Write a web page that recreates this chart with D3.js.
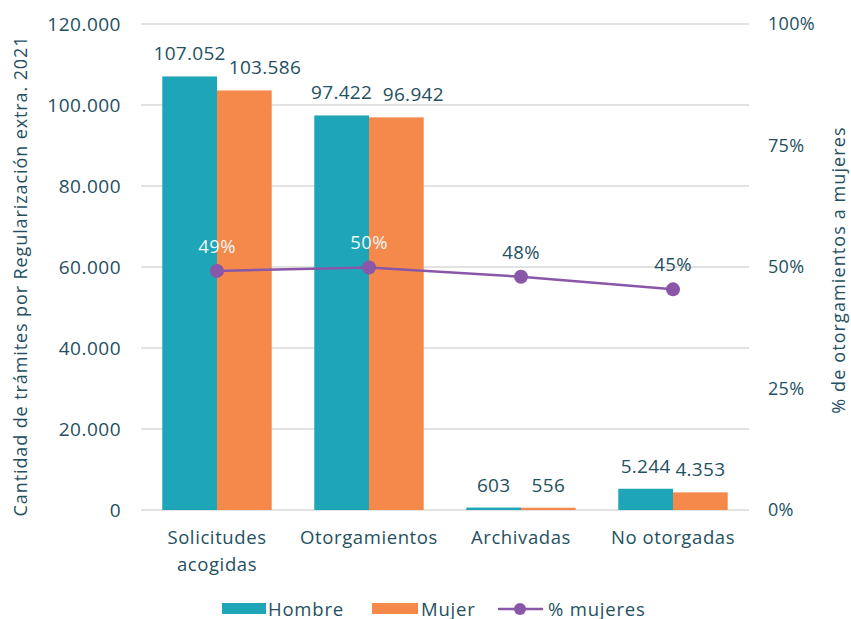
<!DOCTYPE html>
<html>
<head>
<meta charset="utf-8">
<script src="https://cdn.jsdelivr.net/npm/d3@7"></script>
<style>
  body { margin: 0; background: #fff; }
  svg text { font-family: "Open Sans", sans-serif; fill: #24505f; }
</style>
</head>
<body>
<div id="chart"></div>
<script>
// data
const categories = [["Solicitudes", "acogidas"], ["Otorgamientos"], ["Archivadas"], ["No otorgadas"]];
const hombre = [107052, 97422, 603, 5244];
const mujer = [103586, 96942, 556, 4353];
const pctMujeres = [49.2, 49.9, 48.0, 45.4];
const leftTicks = [0, 20000, 40000, 60000, 80000, 100000, 120000];
const rightTicks = [0, 25, 50, 75, 100];

const W = 851, H = 619;
const margin = { top: 24, right: 102, bottom: 109, left: 141 };
const width = W - margin.left - margin.right,
    height = H - margin.top - margin.bottom;

const colHombre = "#1fa5b8", colMujer = "#f4894b", colLine = "#8857a7";

const fmt = d3.formatLocale({ decimal: ",", thousands: ".", grouping: [3], currency: ["", ""] }).format(",d");

const svg = d3.select("#chart").append("svg")
    .attr("width", W).attr("height", H);
const g = svg.append("g").attr("transform", `translate(${margin.left},${margin.top})`);

const x = d3.scaleBand().domain(d3.range(categories.length)).range([0, width]);
const xs = d3.scaleBand().domain(["h", "m"]).range([x.bandwidth() * 0.14, x.bandwidth() * 0.86]);
const y = d3.scaleLinear().domain([0, 120000]).range([height, 0]);
const y2 = d3.scaleLinear().domain([0, 100]).range([height, 0]);

// gridlines
g.append("g").selectAll("line").data(leftTicks).join("line")
    .attr("x1", 0).attr("x2", width)
    .attr("y1", d => y(d)).attr("y2", d => y(d))
    .attr("stroke", "#d9d9d9").attr("stroke-width", 1.5);

// left axis
const ay = g.append("g").call(d3.axisLeft(y).tickValues(leftTicks).tickFormat(d => fmt(d)).tickSize(0).tickPadding(20));
ay.select(".domain").remove();
ay.selectAll("text").style("font-size", "19px").style("letter-spacing", "0.5px").attr("fill", "#24505f");

// right axis
const ay2 = g.append("g").attr("transform", `translate(${width},0)`)
    .call(d3.axisRight(y2).tickValues(rightTicks).tickFormat(d => d + "%").tickSize(0).tickPadding(19));
ay2.select(".domain").remove();
ay2.selectAll("text").style("font-size", "18px").style("letter-spacing", "0.3px").attr("fill", "#24505f");

// bars
const groups = g.selectAll(".grp").data(categories).join("g")
    .attr("transform", (d, i) => `translate(${x(i)},0)`);
groups.append("rect")
    .attr("x", xs("h")).attr("width", xs.bandwidth())
    .attr("y", (d, i) => y(hombre[i])).attr("height", (d, i) => height - y(hombre[i]))
    .attr("fill", colHombre);
groups.append("rect")
    .attr("x", xs("m")).attr("width", xs.bandwidth())
    .attr("y", (d, i) => y(mujer[i])).attr("height", (d, i) => height - y(mujer[i]))
    .attr("fill", colMujer);
const labH = groups.append("text")
    .attr("x", xs("h") + xs.bandwidth() / 2).attr("y", (d, i) => y(hombre[i]) - 16)
    .attr("text-anchor", "middle").style("font-size", "19px").style("letter-spacing", "0.3px")
    .text((d, i) => fmt(hombre[i]));
const labM = groups.append("text")
    .attr("x", xs("m") + xs.bandwidth() / 2).attr("y", (d, i) => y(mujer[i]) - 16)
    .attr("text-anchor", "middle").style("font-size", "19px").style("letter-spacing", "0.3px")
    .text((d, i) => fmt(mujer[i]));

// nudge Mujer labels right when they collide with Hombre labels
labM.each(function (d, i) {
    const bh = labH.nodes()[i].getBBox(), bm = this.getBBox();
    const overlap = bh.x + bh.width - bm.x;
    const vert = Math.abs(bh.y - bm.y) < bh.height;
    if (overlap > 0 && vert) {
        d3.select(this).attr("x", +d3.select(this).attr("x") + Math.max(17, overlap + 3));
    }
});

// category labels
groups.append("text")
    .attr("x", x.bandwidth() / 2).attr("y", height + 34)
    .attr("text-anchor", "middle").style("font-size", "18.5px").style("letter-spacing", "0.6px")
    .selectAll("tspan").data(d => d).join("tspan")
    .attr("x", x.bandwidth() / 2).attr("dy", (d, i) => i === 0 ? 0 : 27)
    .text(d => d);

// line
const cx = i => x(i) + x.bandwidth() / 2;
g.append("path").datum(pctMujeres)
    .attr("fill", "none").attr("stroke", colLine).attr("stroke-width", 2.5)
    .attr("d", d3.line().x((d, i) => cx(i)).y(d => y2(d)));
g.selectAll(".dot").data(pctMujeres).join("circle")
    .attr("cx", (d, i) => cx(i)).attr("cy", d => y2(d)).attr("r", 7)
    .attr("fill", colLine);
g.selectAll(".pct").data(pctMujeres).join("text")
    .attr("x", (d, i) => cx(i)).attr("y", d => y2(d) - 18)
    .attr("text-anchor", "middle").style("font-size", "18.5px").style("letter-spacing", "0.4px")
    .style("fill", (d, i) => y(Math.min(hombre[i], mujer[i])) < y2(d) - 40 ? "#eef5f8" : "#24505f")
    .text(d => Math.round(d) + "%");

// axis titles
svg.append("text")
    .attr("transform", `translate(27,${margin.top + height / 2 + 9}) rotate(-90)`)
    .attr("text-anchor", "middle").style("font-size", "18px").style("letter-spacing", "0.9px")
    .text("Cantidad de trámites por Regularización extra. 2021");
svg.append("text")
    .attr("transform", `translate(845,${margin.top + height / 2 + 3}) rotate(-90)`)
    .attr("text-anchor", "middle").style("font-size", "18px").style("letter-spacing", "1.1px")
    .text("% de otorgamientos a mujeres");

// legend
const lg = svg.append("g").attr("transform", "translate(0,609)");
lg.append("rect").attr("x", 222).attr("y", -6).attr("width", 44).attr("height", 11).attr("fill", colHombre);
lg.append("text").attr("x", 268).attr("y", 6.5).style("font-size", "18.5px").style("letter-spacing", "0.8px").text("Hombre");
lg.append("rect").attr("x", 372).attr("y", -6).attr("width", 46).attr("height", 11).attr("fill", colMujer);
lg.append("text").attr("x", 421).attr("y", 6.5).style("font-size", "18.5px").style("letter-spacing", "0.8px").text("Mujer");
lg.append("line").attr("x1", 498).attr("x2", 543).attr("y1", 0).attr("y2", 0)
    .attr("stroke", colLine).attr("stroke-width", 2.5);
lg.append("circle").attr("cx", 520).attr("cy", 0).attr("r", 6).attr("fill", colLine);
lg.append("text").attr("x", 548).attr("y", 6.5).style("font-size", "18.5px").style("letter-spacing", "0.8px").text("% mujeres");
</script>
</body>
</html>
